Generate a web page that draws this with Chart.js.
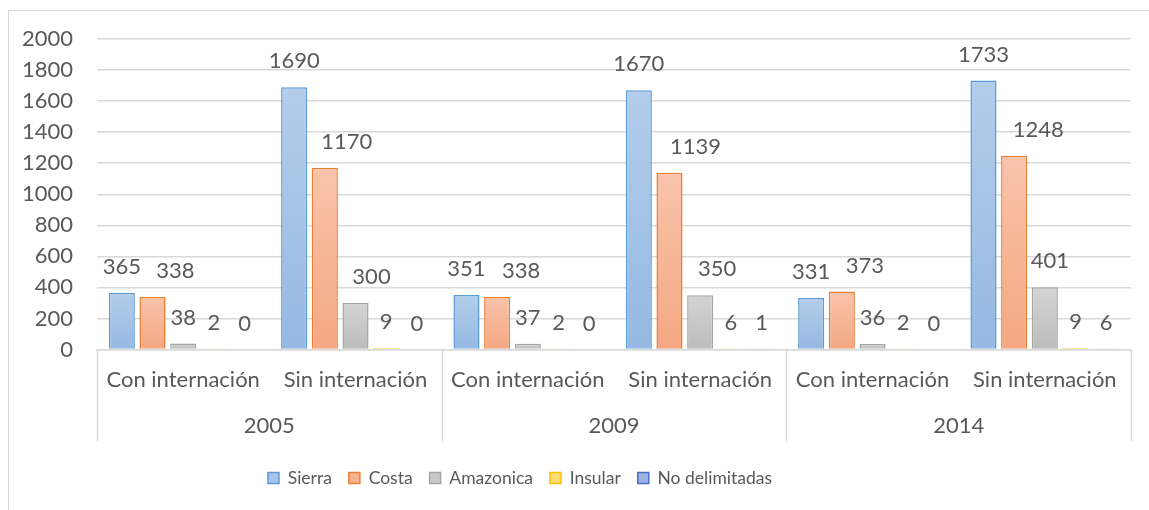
<!DOCTYPE html>
<html>
<head>
<meta charset="utf-8">
<script src="https://cdn.jsdelivr.net/npm/chart.js@4/dist/chart.umd.min.js"></script>
<style>
  html, body { margin: 0; padding: 0; background: #fff; overflow: hidden; }
  #marco { position: absolute; left: 8px; top: 10px; width: 1300px; height: 700px; border: 1px solid #d9d9d9; }
  #caja { position: absolute; left: 0; top: 0; width: 1149px; height: 510px; }
</style>
</head>
<body>
<div id="marco"></div>
<div id="caja"><canvas id="grafico"></canvas></div>
<script>
// categorías y series
const categorias = ["Con internación", "Sin internación", "Con internación", "Sin internación", "Con internación", "Sin internación"];
const anios = ["2005", "2009", "2014"];
const sierra = [365, 1690, 351, 1670, 331, 1733];
const costa = [338, 1170, 338, 1139, 373, 1248];
const amazonica = [38, 300, 37, 350, 36, 401];
const insular = [2, 9, 2, 6, 2, 9];
const noDelimitadas = [0, 0, 0, 1, 0, 6];
const marcasY = [0, 200, 400, 600, 800, 1000, 1200, 1400, 1600, 1800, 2000];

const gris = "#595959";
const fuente = "Lato, 'Open Sans', sans-serif";

// desplazamiento horizontal de las etiquetas (en el original no todas van centradas)
const desplazaEtiqueta = [
    [0, 0, 0, 0, 0, 0],
    [23, 22, 24, 26, 23, 24],
    [0, 16, 0, 17, 0, 5],
    [0, 0, 0, 0, 0, 0],
    [0, 0, 0, 0, 0, 0]
];

// degradado vertical dentro de cada barra (claro arriba, más oscuro abajo)
function degradado(arriba, abajo) {
    return function(context) {
        const chart = context.chart;
        const y = chart.scales.y;
        if (!chart.chartArea || !y || context.raw === undefined) return abajo;
        const tope = y.getPixelForValue(context.raw);
        const base = y.getPixelForValue(0);
        if (!(base - tope > 1)) return abajo;
        const g = chart.ctx.createLinearGradient(0, tope, 0, base);
        g.addColorStop(0, arriba);
        g.addColorStop(1, abajo);
        return g;
    };
}

// etiquetas de valor encima de cada barra
const etiquetasValor = {
    id: "etiquetasValor",
    afterDatasetsDraw(chart) {
        const ctx = chart.ctx;
        ctx.save();
        ctx.fillStyle = gris;
        ctx.font = "22px " + fuente;
        ctx.textAlign = "center";
        ctx.textBaseline = "middle";
        chart.data.datasets.forEach(function(ds, i) {
            const meta = chart.getDatasetMeta(i);
            meta.data.forEach(function(barra, j) {
                ctx.fillText(String(ds.data[j]), barra.x + desplazaEtiqueta[i][j], barra.y - 26);
            });
        });
        ctx.restore();
    }
};

// líneas separadoras del eje de categorías de dos niveles
const separadores = {
    id: "separadores",
    afterLayout(chart) {
        // la leyenda del original queda centrada algo a la izquierda
        chart.legend.left = 0;
        chart.legend.right = 1040;
    },
    afterDraw(chart) {
        const ctx = chart.ctx;
        const area = chart.chartArea;
        const paso = (area.right - area.left) / anios.length;
        ctx.save();
        ctx.strokeStyle = "#d9d9d9";
        ctx.lineWidth = 1.5;
        for (let k = 0; k <= anios.length; k++) {
            const x = Math.round(area.left + k * paso) + 0.5;
            ctx.beginPath();
            ctx.moveTo(x, area.bottom);
            ctx.lineTo(x, area.bottom + 92);
            ctx.stroke();
        }
        ctx.restore();
    }
};

function serie(nombre, datos, borde, arriba, abajo) {
    return {
        label: nombre,
        data: datos,
        borderColor: borde,
        borderWidth: 1.5,
        backgroundColor: degradado(arriba, abajo),
        categoryPercentage: 0.89,
        barPercentage: 0.85
    };
}

new Chart(document.getElementById("grafico"), {
    type: "bar",
    data: {
        labels: categorias,
        datasets: [
            serie("Sierra", sierra, "#5b9bd5", "#b3cdeb", "#95b9e2"),
            serie("Costa", costa, "#ed7d31", "#f8c4ab", "#f5a782"),
            serie("Amazonica", amazonica, "#a5a5a5", "#d4d4d4", "#bcbcbc"),
            serie("Insular", insular, "#ffc000", "#ffe08a", "#ffcf4d"),
            serie("No delimitadas", noDelimitadas, "#4472c4", "#aebde3", "#8ca4d9")
        ]
    },
    options: {
        responsive: true,
        maintainAspectRatio: false,
        animation: false,
        layout: { padding: { top: 39, left: 0, right: 18, bottom: 13.25 } },
        plugins: {
            tooltip: { enabled: false },
            legend: {
                position: "bottom",
                labels: {
                    color: gris,
                    font: { family: fuente, size: 17.5 },
                    boxWidth: 11,
                    boxHeight: 11,
                    padding: 17,
                    generateLabels(chart) {
                        const colores = [["#5b9bd5", "#a9c6e8"], ["#ed7d31", "#f6b393"], ["#a5a5a5", "#c9c9c9"], ["#ffc000", "#ffdb75"], ["#4472c4", "#9fb2e0"]];
                        return chart.data.datasets.map(function(ds, i) {
                            return {
                                text: ds.label,
                                fillStyle: colores[i][1],
                                strokeStyle: colores[i][0],
                                lineWidth: 1.5,
                                fontColor: gris,
                                datasetIndex: i,
                                hidden: false
                            };
                        });
                    }
                }
            }
        },
        scales: {
            x: {
                grid: { display: false, drawTicks: false },
                border: { display: true, color: "#d9d9d9", width: 1.5 },
                ticks: { color: gris, font: { family: fuente, size: 22 }, padding: 17, maxRotation: 0, autoSkip: false },
                afterFit(scale) { scale.height = 46; }
            },
            x2: {
                type: "category",
                labels: anios,
                position: "bottom",
                offset: true,
                weight: 1,
                grid: { display: false, drawTicks: false },
                border: { display: false },
                ticks: { color: gris, font: { family: fuente, size: 22 }, padding: 17.5, maxRotation: 0 },
                afterFit(scale) { scale.height = 56.75; }
            },
            y: {
                min: 0,
                max: 2000,
                afterBuildTicks(scale) { scale.ticks = marcasY.map(function(v) { return { value: v }; }); },
                grid: { color: "#d9d9d9", lineWidth: 1.5, drawTicks: false },
                border: { display: false },
                ticks: { color: gris, font: { family: fuente, size: 22 }, padding: 24, callback: function(v) { return String(v); } },
                afterFit(scale) { scale.width = 97; }
            }
        }
    },
    plugins: [etiquetasValor, separadores]
});
</script>
</body>
</html>
